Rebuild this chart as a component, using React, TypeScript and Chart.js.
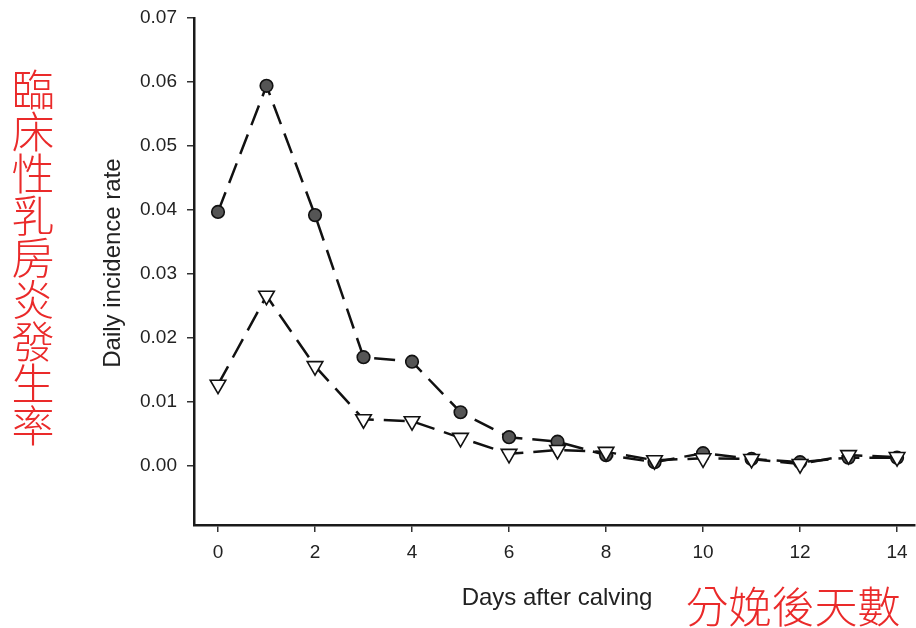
import { useEffect, useRef } from 'react';
import { Chart, registerables } from 'chart.js';

Chart.register(...registerables);

const days = [0, 1, 2, 3, 4, 5, 6, 7, 8, 9, 10, 11, 12, 13, 14];
const seriesCircle = [0.0397, 0.0594, 0.0392, 0.0170, 0.0163, 0.0084, 0.0045, 0.0038, 0.0017, 0.0006, 0.0020, 0.0011, 0.0006, 0.0013, 0.0013];
const seriesTriangle = [0.0127, 0.0266, 0.0156, 0.0073, 0.0070, 0.0044, 0.0019, 0.0025, 0.0022, 0.0009, 0.0012, 0.0011, 0.0003, 0.0017, 0.0014];
const xTicks = [0, 2, 4, 6, 8, 10, 12, 14];
const yTicks = [0, 0.01, 0.02, 0.03, 0.04, 0.05, 0.06, 0.07];

const yTitle = 'Daily incidence rate';
const xTitle = 'Days after calving';
const redYTitle = '臨床性乳房炎發生率';
const redXTitle = '分娩後天數';

const textPlugin = {
  id: 'customTexts',
  afterDraw(chart: any) {
    const ctx = chart.ctx;
    ctx.save();
    ctx.fillStyle = '#222';
    ctx.font = '24px "Liberation Sans", Arial, sans-serif';
    ctx.textAlign = 'center';
    ctx.textBaseline = 'alphabetic';
    ctx.save();
    ctx.translate(120, 263);
    ctx.rotate(-Math.PI / 2);
    ctx.fillText(yTitle, 0, 0);
    ctx.restore();
    ctx.fillText(xTitle, 557, 605);
    ctx.fillStyle = '#ea2a2a';
    ctx.font = '300 43px "Noto Sans CJK TC", sans-serif';
    ctx.textBaseline = 'middle';
    ctx.textAlign = 'center';
    Array.from(redYTitle).forEach((c, i) => {
      ctx.fillText(c, 33, 90 + i * 42);
    });
    ctx.fillText(redXTitle, 793, 607);
    ctx.restore();
  },
};

export default function App() {
  const ref = useRef<HTMLCanvasElement | null>(null);
  useEffect(() => {
    if (!ref.current) return;
    const lineCommon = {
      borderColor: '#111',
      borderWidth: 2.5,
      borderDash: [21, 10],
      tension: 0,
      pointBorderColor: '#111',
      pointBorderWidth: 1.6,
    };
    const chart = new Chart(ref.current, {
      type: 'line',
      data: {
        datasets: [
          {
            ...lineCommon,
            label: 'A',
            data: days.map((d, i) => ({ x: d, y: seriesCircle[i] })),
            pointStyle: 'circle',
            pointRadius: 6.3,
            pointBackgroundColor: '#555',
            order: 1,
          },
          {
            ...lineCommon,
            label: 'B',
            data: days.map((d, i) => ({ x: d, y: seriesTriangle[i] })),
            pointStyle: 'triangle',
            pointRotation: 180,
            pointRadius: 9,
            pointBackgroundColor: '#fff',
            order: 0,
          },
        ],
      },
      options: {
        animation: false,
        responsive: false,
        maintainAspectRatio: false,
        layout: { autoPadding: false, padding: { left: 0, top: 18, right: 1, bottom: 0 } },
        plugins: { legend: { display: false }, tooltip: { enabled: false } },
        scales: {
          x: {
            type: 'linear',
            min: -0.495,
            max: 14.37,
            afterBuildTicks: (s: any) => {
              s.ticks = xTicks.map((v) => ({ value: v }));
            },
            afterFit: (s: any) => {
              s.height = 103;
              s.paddingLeft = 0;
              s.paddingRight = 0;
            },
            border: { display: true, color: '#1a1a1a', width: 2.5 },
            grid: { display: true, drawOnChartArea: false, drawTicks: true, tickLength: 7, color: '#333', lineWidth: 1.5 },
            ticks: {
              padding: 9,
              color: '#222',
              font: { family: '"Liberation Sans", Arial, sans-serif', size: 19 },
              callback: (v: any) => String(v),
              maxRotation: 0,
            },
          },
          y: {
            type: 'linear',
            min: -0.00922,
            max: 0.07,
            afterBuildTicks: (s: any) => {
              s.ticks = yTicks.map((v) => ({ value: v }));
            },
            afterFit: (s: any) => {
              s.width = 194;
              s.paddingTop = 0;
              s.paddingBottom = 0;
            },
            border: { display: true, color: '#1a1a1a', width: 2.5 },
            grid: { display: true, drawOnChartArea: false, drawTicks: true, tickLength: 7, color: '#333', lineWidth: 1.5 },
            ticks: {
              padding: 10,
              color: '#222',
              font: { family: '"Liberation Sans", Arial, sans-serif', size: 19 },
              callback: (v: any) => Number(v).toFixed(2),
            },
          },
        },
      },
      plugins: [textPlugin],
    } as any);
    return () => chart.destroy();
  }, []);
  return (
    <div style={{ position: 'fixed', left: 0, top: 0, width: 916, height: 628, background: '#fff' }}>
      <canvas ref={ref} width={916} height={628} style={{ display: 'block', width: 916, height: 628 }} />
    </div>
  );
}
